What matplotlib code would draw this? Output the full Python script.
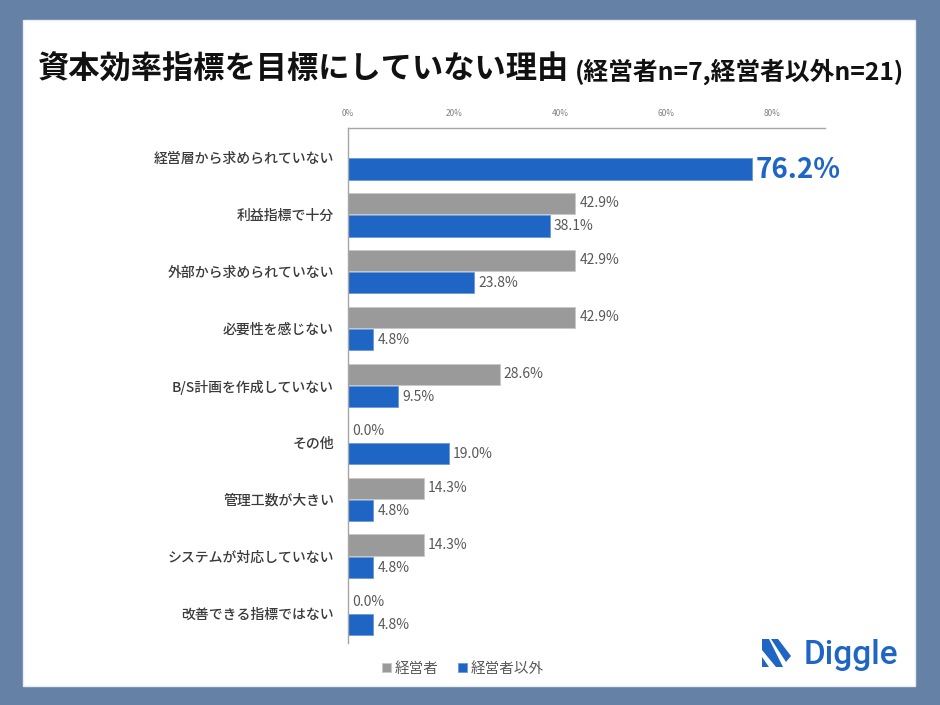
import numpy as np
import matplotlib
matplotlib.use("Agg")
import matplotlib.pyplot as plt
from matplotlib.patches import Rectangle, Polygon

plt.rcParams['font.family'] = ['Noto Sans CJK JP', 'DejaVu Sans']

# ---- data ----
categories = ['経営層から求められていない', '利益指標で十分', '外部から求められていない',
              '必要性を感じない', 'B/S計画を作成していない', 'その他',
              '管理工数が大きい', 'システムが対応していない', '改善できる指標ではない']
exec_vals = [np.nan, 42.9, 42.9, 42.9, 28.6, 0.0, 14.3, 14.3, 0.0]
non_exec_vals = [76.2, 38.1, 23.8, 4.8, 9.5, 19.0, 4.8, 4.8, 4.8]
series_names = ['経営者', '経営者以外']
x_ticks = [0, 20, 40, 60, 80]
x_tick_labels = ['0%', '20%', '40%', '60%', '80%']
title_main = '資本効率指標を目標にしていない理由'
title_sub = '(経営者n=7,経営者以外n=21)'

GRAY = '#9a9a9a'
BLUE = '#1f66c4'
BORDER = '#6581a6'
TXT = '#595959'

W, H = 940, 705
fig = plt.figure(figsize=(W / 100, H / 100), dpi=100, facecolor=BORDER)

def fx(px):
    return px / W

def fy(py):
    return 1 - py / H

# white panel
fig.patches.append(Rectangle((fx(23), fy(686)), fx(915) - fx(23), fy(20) - fy(686),
                             transform=fig.transFigure, facecolor='white',
                             edgecolor='#e8ecf2', lw=1, zorder=-5))

ax = fig.add_axes([fx(348), fy(643), fx(825) - fx(348), fy(128) - fy(643)])
ax.set_facecolor('none')
ax.set_zorder(2)

y = np.arange(len(categories))
off = 0.20
h = 0.37
ex = np.array(exec_vals, dtype=float)
ne = np.array(non_exec_vals, dtype=float)
mask = ~np.isnan(ex)
b1 = ax.barh(y[mask] - off, ex[mask], height=h, color=GRAY, edgecolor='#c8c8c8',
             lw=0.6, label=series_names[0])
b2 = ax.barh(y + off, ne, height=h, color=BLUE, edgecolor='#6a9ad8', lw=0.6,
             label=series_names[1])

for yi, v in zip(y[mask] - off, ex[mask]):
    ax.annotate(f'{v:.1f}%', (v, yi), xytext=(4, 0), textcoords='offset pixels',
                va='center', ha='left', fontsize=10, color=TXT)
for i, (yi, v) in enumerate(zip(y + off, ne)):
    if i == 0:
        ax.annotate(f'{v:.1f}%', (v, yi), xytext=(4, -1), textcoords='offset pixels',
                    va='center', ha='left', fontsize=20, color=BLUE, fontweight='bold')
    else:
        ax.annotate(f'{v:.1f}%', (v, yi), xytext=(4, 0), textcoords='offset pixels',
                    va='center', ha='left', fontsize=10, color=TXT)

ax.set_xlim(0, 90)
ax.set_ylim(len(categories) - 0.48, -0.52)
ax.set_yticks(y)
ax.set_yticklabels(categories, fontsize=10, color='#3a3a3a', fontweight='medium')
ax.tick_params(axis='y', length=0, pad=10)
ax.xaxis.tick_top()
ax.set_xticks(x_ticks)
ax.set_xticklabels(x_tick_labels, fontsize=6, color='#808080')
ax.tick_params(axis='x', length=0, pad=7)
for s in ['right', 'bottom']:
    ax.spines[s].set_visible(False)
for s in ['top', 'left']:
    ax.spines[s].set_color('#a6a6a6')
    ax.spines[s].set_linewidth(1)

# title
t1 = fig.text(fx(38), fy(70), title_main, fontsize=22.5, fontweight='bold',
              color='#111111', ha='left', va='center')
fig.canvas.draw()
bb = t1.get_window_extent()
fig.text((bb.x1 + 6) / W, fy(72), title_sub, fontsize=17.8, fontweight='bold',
         color='#111111', ha='left', va='center')

# legend
fig.legend(handles=[b1, b2], labels=series_names, loc='center',
           bbox_to_anchor=(fx(463), fy(669)), ncol=2, frameon=False,
           handlelength=0.6, handleheight=0.6, handletextpad=0.3,
           columnspacing=1.3, fontsize=10.5, labelcolor=TXT)

# Diggle logo
fig.text(fx(898), fy(655), 'Diggle', fontsize=24, family='Roboto', fontweight='medium',
         color=BLUE, ha='right', va='center')
shapes = [
    [(762, 639), (769, 639), (783, 667), (776, 667), (762, 650)],
    [(762, 657), (762, 667), (769, 667)],
    [(771, 639), (778, 639), (791, 656), (786, 662)],
]
for pts in shapes:
    fig.patches.append(Polygon([(fx(a), fy(b)) for a, b in pts], closed=True,
                               transform=fig.transFigure, facecolor=BLUE,
                               edgecolor='none', zorder=2))

fig.savefig('out.png', dpi=100, facecolor=BORDER)
